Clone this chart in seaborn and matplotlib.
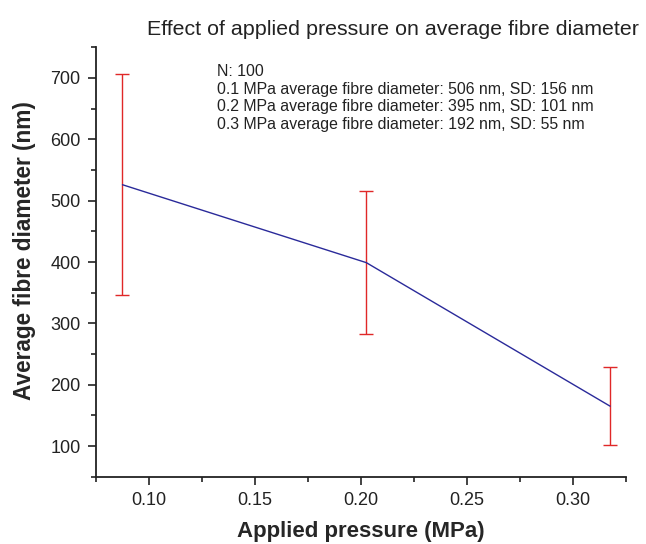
import seaborn as sns
import matplotlib.pyplot as plt
from matplotlib.ticker import MultipleLocator

# values
pressure = [0.0875, 0.2025, 0.3175]
diameter = [526, 399, 165]
diameter_err = [180, 116, 64]

title = 'Effect of applied pressure on average fibre diameter'
note_lines = [
    'N: 100',
    '0.1 MPa average fibre diameter: 506 nm, SD: 156 nm',
    '0.2 MPa average fibre diameter: 395 nm, SD: 101 nm',
    '0.3 MPa average fibre diameter: 192 nm, SD: 55 nm',
]

sns.set_style('ticks')
plt.rcParams['font.family'] = ['Liberation Sans', 'DejaVu Sans']

fig = plt.figure(figsize=(6.46, 5.44), dpi=100)
ax = fig.add_axes([0.1486, 0.1237, 0.8204, 0.7893])

ax.errorbar(pressure, diameter, yerr=diameter_err, fmt='none', ecolor='#e02828',
            elinewidth=1.0, capsize=5, capthick=1.0, zorder=2)
sns.lineplot(x=pressure, y=diameter, ax=ax, color='#2a2a9a', linewidth=1.0,
             zorder=3)

ax.set_xlim(0.075, 0.325)
ax.set_ylim(50, 750)
ax.xaxis.set_major_locator(MultipleLocator(0.05))
ax.xaxis.set_minor_locator(MultipleLocator(0.025))
ax.yaxis.set_major_locator(MultipleLocator(100))
ax.yaxis.set_minor_locator(MultipleLocator(50))
ax.xaxis.set_major_formatter(plt.FuncFormatter(lambda v, p: f'{v:.2f}'))
ax.tick_params(which='major', length=6, width=1.2, labelsize=13, colors='#222222',
               labelcolor='#222222', pad=5)
ax.tick_params(which='minor', length=3.5, width=1.2, colors='#222222')

sns.despine(ax=ax)
for side in ['left', 'bottom']:
    ax.spines[side].set_linewidth(1.3)
    ax.spines[side].set_color('#222222')

ax.set_xlabel('Applied pressure (MPa)', fontsize=16, fontweight='bold')
ax.set_ylabel('Average fibre diameter (nm)', fontsize=16.3, fontweight='bold')
ax.xaxis.set_label_coords(0.5, -0.128)
ax.yaxis.set_label_coords(-0.134, 0.526)
ax.xaxis.label.set_va('center')
ax.yaxis.label.set_va('center')

fig.text(0.608, 0.945, title, ha='center', va='center', fontsize=15.4, color='#222222')
fig.text(0.336, 0.882, '\n'.join(note_lines), ha='left', va='top', fontsize=11.4,
         linespacing=1.22, color='#222222')

fig.savefig('out.png', dpi=100)
